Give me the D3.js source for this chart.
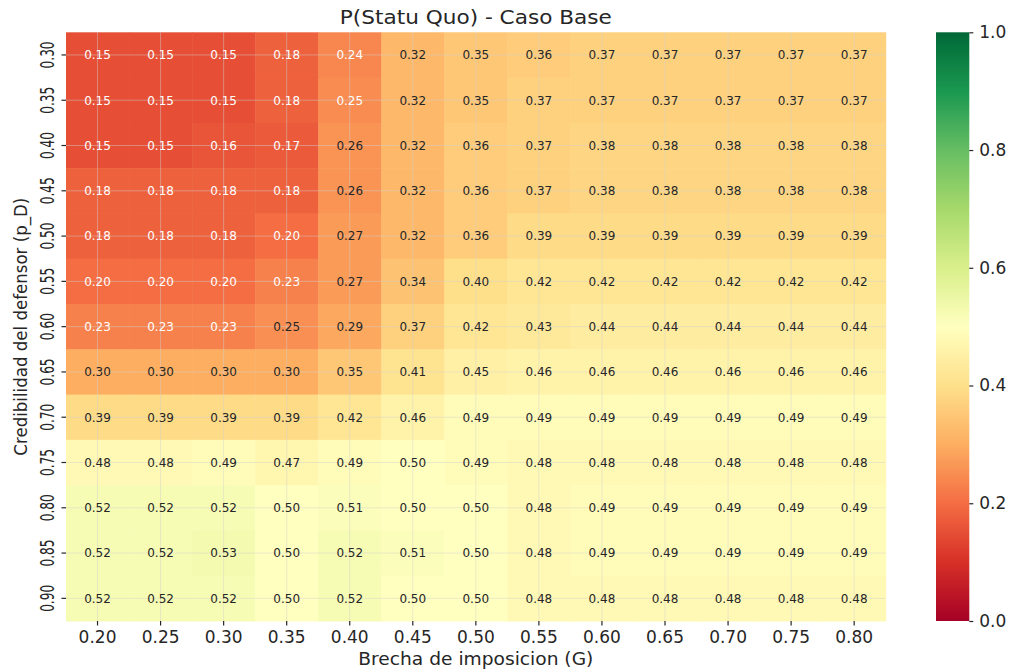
<!DOCTYPE html>
<html>
<head>
<meta charset="utf-8">
<script src="https://cdn.jsdelivr.net/npm/d3@7"></script>
<style>
  html, body { margin: 0; padding: 0; background: #fff; }
  svg { display: block; font-family: "DejaVu Sans", sans-serif; }
</style>
</head>
<body>
<svg id="chart" width="1013" height="671"></svg>
<script>
// ---------------- data ----------------
const title = "P(Statu Quo) - Caso Base";
const xLabel = "Brecha de imposicion (G)";
const yLabel = "Credibilidad del defensor (p_D)";

const xCategories = ["0.20","0.25","0.30","0.35","0.40","0.45","0.50","0.55","0.60","0.65","0.70","0.75","0.80"];
const yCategories = ["0.30","0.35","0.40","0.45","0.50","0.55","0.60","0.65","0.70","0.75","0.80","0.85","0.90"];

const row030 = [0.15,0.15,0.15,0.18,0.24,0.32,0.35,0.36,0.37,0.37,0.37,0.37,0.37];
const row035 = [0.15,0.15,0.15,0.18,0.248,0.32,0.35,0.37,0.37,0.37,0.37,0.37,0.37];
const row040 = [0.15,0.15,0.16,0.17,0.26,0.32,0.36,0.37,0.38,0.38,0.38,0.38,0.38];
const row045 = [0.18,0.18,0.18,0.18,0.26,0.32,0.36,0.37,0.38,0.38,0.38,0.38,0.38];
const row050 = [0.18,0.18,0.18,0.20,0.27,0.32,0.36,0.39,0.39,0.39,0.39,0.39,0.39];
const row055 = [0.20,0.20,0.20,0.23,0.27,0.34,0.40,0.42,0.42,0.42,0.42,0.42,0.42];
const row060 = [0.23,0.23,0.23,0.253,0.29,0.37,0.42,0.43,0.44,0.44,0.44,0.44,0.44];
const row065 = [0.30,0.30,0.30,0.30,0.35,0.41,0.45,0.46,0.46,0.46,0.46,0.46,0.46];
const row070 = [0.39,0.39,0.39,0.39,0.42,0.46,0.49,0.49,0.49,0.49,0.49,0.49,0.49];
const row075 = [0.48,0.48,0.49,0.47,0.49,0.50,0.49,0.48,0.48,0.48,0.48,0.48,0.48];
const row080 = [0.52,0.52,0.52,0.50,0.51,0.50,0.50,0.48,0.49,0.49,0.49,0.49,0.49];
const row085 = [0.52,0.52,0.53,0.50,0.52,0.51,0.50,0.48,0.49,0.49,0.49,0.49,0.49];
const row090 = [0.52,0.52,0.52,0.50,0.52,0.50,0.50,0.48,0.48,0.48,0.48,0.48,0.48];
const rows = [row030,row035,row040,row045,row050,row055,row060,row065,row070,row075,row080,row085,row090];

const colorbarTicks = [0.0, 0.2, 0.4, 0.6, 0.8, 1.0];
// matplotlib RdYlGn anchor colours
const rdylgn = ["#a50026","#d73027","#f46d43","#fdae61","#fee08b","#ffffbf","#d9ef8b","#a6d96a","#66bd63","#1a9850","#006837"];

// ---------------- layout ----------------
const svg = d3.select("#chart");
const L = 66, R = 885.7, T = 32.3, B = 621;
const cbL = 936, cbR = 969.3;

const x = d3.scaleBand().domain(xCategories).range([L, R]).padding(0);
const y = d3.scaleBand().domain(yCategories).range([T, B]).padding(0);
const color = d3.scaleLinear()
  .domain(d3.range(rdylgn.length).map(i => i / (rdylgn.length - 1)))
  .range(rdylgn)
  .interpolate(d3.interpolateRgb)
  .clamp(true);

const cells = [];
rows.forEach((r, i) => r.forEach((v, j) => cells.push({ xi: xCategories[j], yi: yCategories[i], v })));

// cells
svg.append("g").selectAll("rect").data(cells).join("rect")
  .attr("x", d => x(d.xi))
  .attr("y", d => y(d.yi))
  .attr("width", x.bandwidth() + 0.5)
  .attr("height", y.bandwidth() + 0.5)
  .attr("fill", d => color(d.v));

// grid lines at tick centres
const grid = svg.append("g").attr("stroke", "#d0d0d0").attr("stroke-opacity", 0.45).attr("stroke-width", 1);
grid.selectAll("line.v").data(xCategories).join("line").attr("class", "v")
  .attr("x1", d => x(d) + x.bandwidth() / 2).attr("x2", d => x(d) + x.bandwidth() / 2)
  .attr("y1", T).attr("y2", B);
grid.selectAll("line.h").data(yCategories).join("line").attr("class", "h")
  .attr("y1", d => y(d) + y.bandwidth() / 2).attr("y2", d => y(d) + y.bandwidth() / 2)
  .attr("x1", L).attr("x2", R);

// annotations
svg.append("g").selectAll("text").data(cells).join("text")
  .attr("x", d => x(d.xi) + x.bandwidth() / 2)
  .attr("y", d => y(d.yi) + y.bandwidth() / 2)
  .attr("dy", "0.36em")
  .attr("text-anchor", "middle")
  .attr("font-size", 12)
  .attr("fill", d => d.v < 0.25 ? "#ffffff" : "#262626")
  .text(d => d.v.toFixed(2));

// x axis
const xAxis = svg.append("g").attr("transform", `translate(0,${B})`)
  .call(d3.axisBottom(x).tickSize(4.5).tickPadding(4));
xAxis.select(".domain").remove();
xAxis.selectAll(".tick line").attr("stroke", "#262626").attr("stroke-width", 1.2);
xAxis.selectAll(".tick text").attr("font-size", 17).attr("fill", "#262626")
  .attr("font-family", "DejaVu Sans").attr("dy", "0.78em");

// y axis (rotated, squeezed labels)
const yAxis = svg.append("g").attr("transform", `translate(${L},0)`)
  .call(d3.axisLeft(y).tickSize(4.5).tickFormat(""));
yAxis.select(".domain").remove();
yAxis.selectAll(".tick line").attr("stroke", "#262626").attr("stroke-width", 1.2);
yAxis.selectAll(".tick").append("text")
  .attr("transform", "translate(-12.5,0) rotate(-90)")
  .attr("text-anchor", "middle")
  .attr("x", 0).attr("y", 0)
  .attr("font-size", 20)
  .attr("font-family", "DejaVu Sans")
  .attr("fill", "#262626")
  .attr("textLength", 27)
  .attr("lengthAdjust", "spacingAndGlyphs")
  .text(d => d);

// title
svg.append("text")
  .attr("x", (L + R) / 2).attr("y", 24)
  .attr("text-anchor", "middle")
  .attr("font-size", 19)
  .attr("fill", "#262626")
  .attr("textLength", 272).attr("lengthAdjust", "spacingAndGlyphs")
  .text(title);

// axis labels
svg.append("text")
  .attr("x", (L + R) / 2).attr("y", 665)
  .attr("text-anchor", "middle")
  .attr("font-size", 17)
  .attr("fill", "#262626")
  .attr("textLength", 235).attr("lengthAdjust", "spacingAndGlyphs")
  .text(xLabel);

svg.append("text")
  .attr("transform", `translate(26.5,${(T + B) / 2}) rotate(-90)`)
  .attr("text-anchor", "middle")
  .attr("font-size", 17)
  .attr("fill", "#262626")
  .attr("textLength", 258).attr("lengthAdjust", "spacingAndGlyphs")
  .text(yLabel);

// colorbar
const cbScale = d3.scaleLinear().domain([0, 1]).range([B, T]);
const defs = svg.append("defs");
const grad = defs.append("linearGradient").attr("id", "cbgrad")
  .attr("x1", 0).attr("y1", 1).attr("x2", 0).attr("y2", 0);
grad.selectAll("stop").data(d3.range(0, 1.0001, 0.02)).join("stop")
  .attr("offset", d => d)
  .attr("stop-color", d => color(d));
svg.append("rect")
  .attr("x", cbL).attr("y", T)
  .attr("width", cbR - cbL).attr("height", B - T)
  .attr("fill", "url(#cbgrad)");
const cbAxis = svg.append("g").attr("transform", `translate(${cbR},0)`)
  .call(d3.axisRight(cbScale).tickValues(colorbarTicks).tickFormat(d3.format(".1f")).tickSize(4).tickPadding(6));
cbAxis.select(".domain").remove();
cbAxis.selectAll(".tick line").attr("stroke", "#262626").attr("stroke-width", 1.2);
cbAxis.selectAll(".tick text").attr("font-size", 17).attr("fill", "#262626").attr("font-family", "DejaVu Sans");
</script>
</body>
</html>
